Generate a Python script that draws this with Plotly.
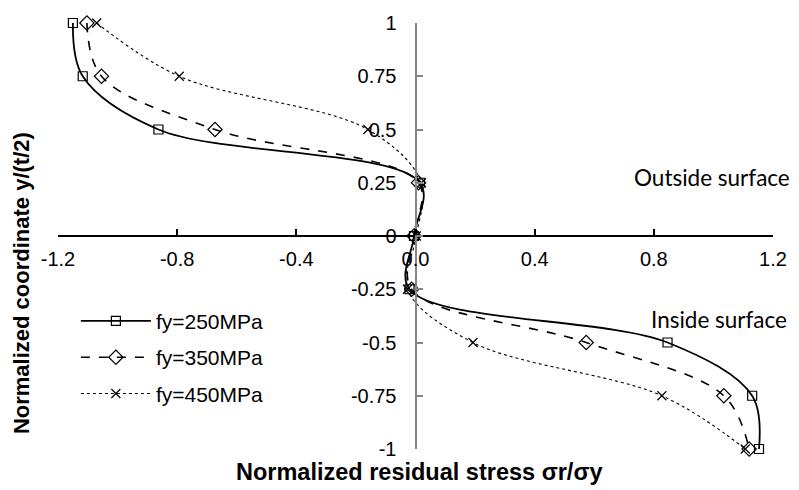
import plotly.graph_objects as go

# Normalized coordinate y/(t/2)
y_coord = [1, 0.75, 0.5, 0.25, 0, -0.25, -0.5, -0.75, -1]

# Normalized residual stress sigma_r/sigma_y
s_250 = [-1.150, -1.117, -0.863, 0.015, -0.005, -0.020, 0.846, 1.130, 1.153]
s_350 = [-1.103, -1.054, -0.673, 0.010, -0.005, -0.013, 0.573, 1.035, 1.120]
s_450 = [-1.070, -0.793, -0.160, 0.020, 0.003, -0.027, 0.193, 0.827, 1.107]

names = ["fy=250MPa", "fy=350MPa", "fy=450MPa"]

x_ticks = [-1.2, -0.8, -0.4, 0.0, 0.4, 0.8, 1.2]
x_ticktext = ["-1.2", "-0.8", "-0.4", "0.0", "0.4", "0.8", "1.2"]
y_ticks = [1, 0.75, 0.5, 0.25, 0, -0.25, -0.5, -0.75, -1]
y_ticktext = ["1", "0.75", "0.5", "0.25", "0", "-0.25", "-0.5", "-0.75", "-1"]

fig = go.Figure()

styles = [
    dict(dash="solid", width=1.8, symbol="square-open", size=9),
    dict(dash="dash", width=1.6, symbol="diamond-open", size=11),
    dict(dash="dot", width=1.1, symbol="x-thin-open", size=9),
]

for i, (xs, nm, st) in enumerate(zip([s_250, s_350, s_450], names, styles)):
    fig.add_trace(go.Scatter(
        x=xs, y=y_coord, name=nm, mode="lines+markers", legendgroup=f"g{i}",
        cliponaxis=False,
        line=dict(color="black", width=st["width"], dash=st["dash"], shape="spline", smoothing=1.0),
        marker=dict(symbol=st["symbol"], size=st["size"], color="black",
                    line=dict(color="black", width=1.2)),
    ))

font_fam = "Liberation Sans, Arial, sans-serif"

fig.update_layout(
    width=799, height=490,
    margin=dict(l=58, r=22, t=15, b=41),
    plot_bgcolor="white", paper_bgcolor="white",
    font=dict(family=font_fam, size=20, color="black"),
    showlegend=True,
    legend=dict(x=0.025, y=0.348, xanchor="left", yanchor="top",
                font=dict(size=21, family=font_fam), bgcolor="rgba(0,0,0,0)",
                itemwidth=70, tracegroupgap=6),
    xaxis=dict(range=[-1.2, 1.2], tickvals=x_ticks, ticktext=x_ticktext,
               showgrid=False, zeroline=False, showline=True, linecolor="black", linewidth=2,
               ticks="inside", ticklen=6, tickcolor="black", tickwidth=1.5,
               anchor="free", position=0.5, tickfont=dict(size=20),
               ticklabelstandoff=5),
    yaxis=dict(range=[-1, 1], tickvals=y_ticks, ticktext=y_ticktext,
               showgrid=False, zeroline=False, showline=True, linecolor="#868686", linewidth=2,
               ticks="inside", ticklen=6, tickcolor="#868686", tickwidth=1.5,
               anchor="free", position=0.5, tickfont=dict(size=20),
               ticklabelstandoff=14),
    annotations=[
        dict(text="<b>Normalized residual stress σr/σy</b>", xref="paper", yref="paper",
             x=0.505, y=-0.053, xanchor="center", yanchor="middle", showarrow=False,
             font=dict(size=23.5, family=font_fam)),
        dict(text="<b>Normalized coordinate y/(t/2)</b>", xref="paper", yref="paper",
             x=-0.05, y=0.39, xanchor="center", yanchor="middle", showarrow=False, textangle=-90,
             font=dict(size=22, family=font_fam)),
        dict(text="Outside surface", xref="paper", yref="paper",
             x=1.027, y=0.638, xanchor="right", yanchor="middle", showarrow=False,
             font=dict(size=22.5, family="Lato, sans-serif")),
        dict(text="Inside surface", xref="paper", yref="paper",
             x=1.022, y=0.304, xanchor="right", yanchor="middle", showarrow=False,
             font=dict(size=22.5, family="Lato, sans-serif")),
    ],
)

fig.write_html("out.html")
